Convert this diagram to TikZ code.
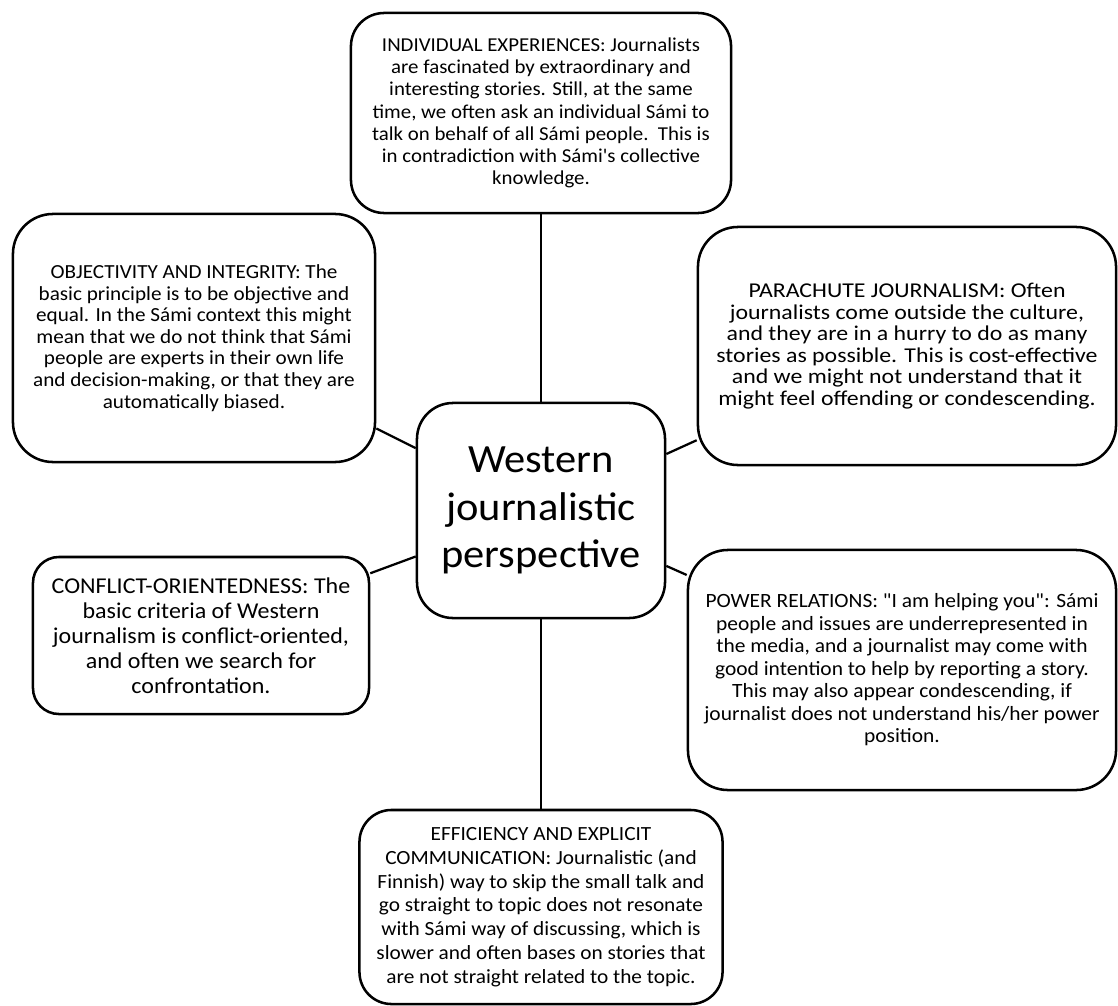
\documentclass[tikz,border=0pt]{standalone}
\usepackage{fontspec}
\setmainfont{Carlito}[Ligatures=TeXOff,FakeStretch=1.06]
\newfontfamily\widefont{Carlito}[Ligatures=TeXOff,FakeStretch=1.13]
\usetikzlibrary{positioning}

\tikzset{
  topic/.style={draw,line width=1.8pt,align=center,inner sep=0pt,
    font=\fontsize{14}{15.8}\selectfont},
  link/.style={line width=1.6pt}
}

\begin{document}
\begin{tikzpicture}[x=0.025cm,y=-0.025cm]
\useasboundingbox (0,0) rectangle (1118,1006);

%Central box
\node[topic,minimum width=6.2cm,minimum height=5.375cm,rounded corners=0.9cm,
  font=\fontsize{28.5}{34}\selectfont] (hub) at (541,510.5)
  {Western\\journalistic\\perspective};

%Six surrounding boxes
\node[topic,minimum width=9.5cm,minimum height=5cm,rounded corners=0.83cm] (indiv) at (541,113)
  {INDIVIDUAL EXPERIENCES: Journalists\\
   are fascinated by extraordinary and\\
   interesting stories. Still, at the same\\
   time, we often ask an individual Sámi to\\
   talk on behalf of all Sámi people.\ \ This is\\
   in contradiction with Sámi's collective\\
   knowledge.};

\node[topic,minimum width=9.05cm,minimum height=6.2cm,rounded corners=1cm,
  font=\fontsize{14.2}{15.4}\selectfont] (obj) at (194,338)
  {OBJECTIVITY AND INTEGRITY: The\\
   basic principle is to be objective and\\
   equal. In the Sámi context this might\\
   mean that we do not think that Sámi\\
   people are experts in their own life\\
   and decision-making, or that they are\\
   automatically biased.};

\node[topic,minimum width=10.45cm,minimum height=5.95cm,rounded corners=1cm,
  font=\widefont\fontsize{15}{15.3}\selectfont] (para) at (907,346)
  {PARACHUTE JOURNALISM: Often\\
   journalists come outside the culture,\\
   and they are in a hurry to do as many\\
   stories as possible. This is cost-effective\\
   and we might not understand that it\\
   might feel offending or condescending.};

\node[topic,minimum width=8.4cm,minimum height=3.925cm,rounded corners=0.65cm,
  font=\fontsize{16.1}{17.8}\selectfont] (conf) at (201,635.5)
  {CONFLICT-ORIENTEDNESS: The\\
   basic criteria of Western\\
   journalism is conflict-oriented,\\
   and often we search for\\
   confrontation.};

\node[topic,minimum width=10.7cm,minimum height=6cm,rounded corners=1cm,
  font=\fontsize{14.4}{16}\selectfont] (power) at (902,670)
  {POWER RELATIONS: "I am helping you": Sámi\\
   people and issues are underrepresented in\\
   the media, and a journalist may come with\\
   good intention to help by reporting a story.\\
   This may also appear condescending, if\\
   journalist does not understand his/her power\\
   position.};

\node[topic,minimum width=9.075cm,minimum height=4.85cm,rounded corners=0.8cm,
  font=\fontsize{14.3}{16.9}\selectfont] (eff) at (541,907)
  {EFFICIENCY AND EXPLICIT\\
   COMMUNICATION: Journalistic (and\\
   Finnish) way to skip the small talk and\\
   go straight to topic does not resonate\\
   with Sámi way of discussing, which is\\
   slower and often bases on stories that\\
   are not straight related to the topic.};

%Lines from the centre out to each box
\foreach \n in {indiv,obj,para,conf,power,eff}
  \draw[link] (hub) -- (\n);

\end{tikzpicture}
\end{document}
